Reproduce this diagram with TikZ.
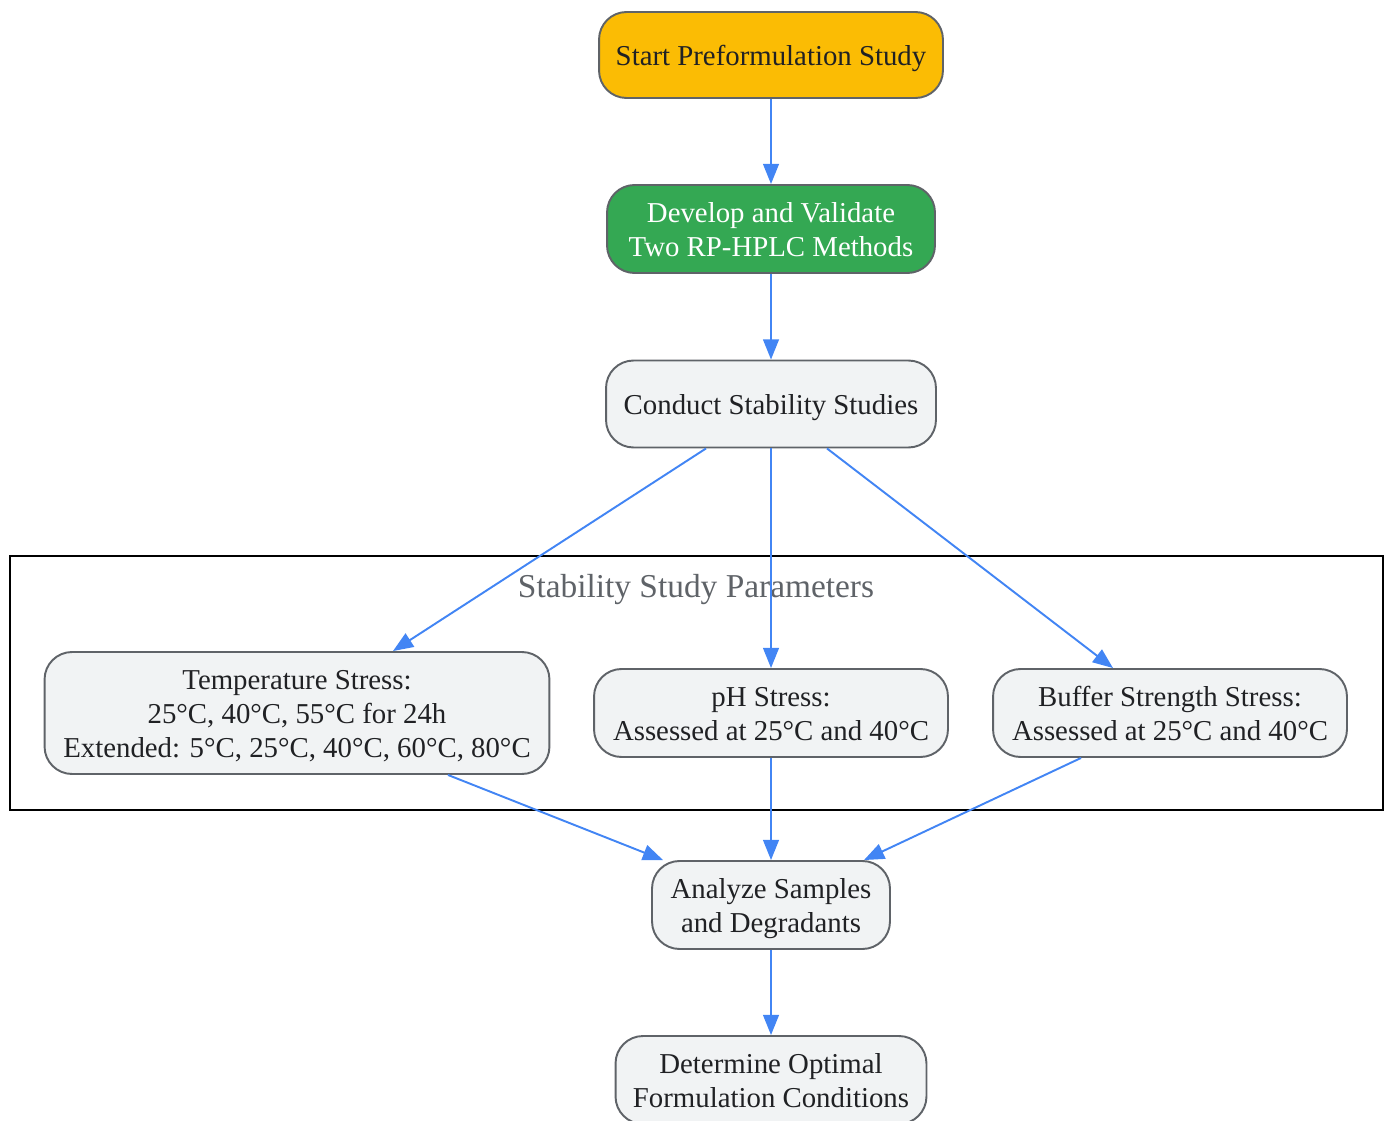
\documentclass[tikz,border=0pt]{standalone}
\usepackage{fontspec}
\setmainfont{Liberation Serif}
\usepackage{xcolor}
\usepackage{tikz}
\usetikzlibrary{arrows.meta}
\definecolor{gold}{HTML}{FBBC04}
\definecolor{green}{HTML}{34A853}
\definecolor{pale}{HTML}{F1F3F4}
\definecolor{rim}{HTML}{5F6368}
\definecolor{ink}{HTML}{202124}
\definecolor{link}{HTML}{4285F4}
\newcommand\lines[1]{\begin{tabular}{@{}c@{}}\rule{0pt}{18pt}#1\end{tabular}}
\tikzset{
  box/.style={draw=rim, line width=1.1pt, rounded corners=0.55cm, fill=pale,
    text=ink, align=center, inner sep=0pt,
    font=\fontsize{16.4}{19.3}\selectfont},
  flow/.style={draw=link, line width=1.1pt, -{Triangle[length=11.5pt,width=9pt]}},
  frame/.style={draw=black, line width=1.3pt},
  title/.style={text=rim, font=\fontsize{19}{22}\selectfont}
}

\begin{document}
\begin{tikzpicture}[x=0.02cm, y=-0.02cm]
  \useasboundingbox (0,0) rectangle (1389,1121);

  % cluster
  \draw[frame] (10,556) rectangle (1383,810);
  \node[title] (ttl) at (696,590) {Stability Study Parameters};

  \node[box, fill=gold, minimum width=6.88cm, minimum height=1.72cm] (start) at (771,55) {\lines{Start Preformulation Study}};
  \node[box, fill=green, text=white, minimum width=6.56cm, minimum height=1.76cm] (dev) at (771,229) {\lines{Develop and Validate\\Two RP-HPLC Methods}};
  \node[box, minimum width=6.6cm, minimum height=1.74cm] (cond) at (771,404) {\lines{Conduct Stability Studies}};
  \node[box, minimum width=10.1cm, minimum height=2.44cm] (temp) at (297,713) {\lines{Temperature Stress:\\25°C, 40°C, 55°C for 24h\\Extended: 5°C, 25°C, 40°C, 60°C, 80°C}};
  \node[box, minimum width=7.08cm, minimum height=1.76cm] (ph) at (771,713) {\lines{pH Stress:\\Assessed at 25°C and 40°C}};
  \node[box, minimum width=7.08cm, minimum height=1.76cm] (buf) at (1170,713) {\lines{Buffer Strength Stress:\\Assessed at 25°C and 40°C}};
  \node[box, minimum width=4.76cm, minimum height=1.76cm] (ana) at (771,905) {\lines{Analyze Samples\\and Degradants}};
  \node[box, minimum width=6.22cm, minimum height=1.76cm] (det) at (771,1080) {\lines{Determine Optimal\\Formulation Conditions}};

  \draw[flow] (start) -- (dev);
  \draw[flow] (dev) -- (cond);
  \draw[flow] ([xshift=-1.3cm]cond.south) -- ([xshift=1.92cm]temp.north);
  \draw[flow] (cond) -- (ph);
  \draw[flow] ([xshift=1.12cm]cond.south) -- ([xshift=-1.14cm]buf.north);
  \draw[flow] ([xshift=3.02cm]temp.south) -- ([xshift=-2.16cm]ana.north);
  \draw[flow] (ph) -- (ana);
  \draw[flow] ([xshift=-1.78cm]buf.south) -- ([xshift=1.86cm]ana.north);
  \draw[flow] (ana) -- (det);
\end{tikzpicture}
\end{document}
